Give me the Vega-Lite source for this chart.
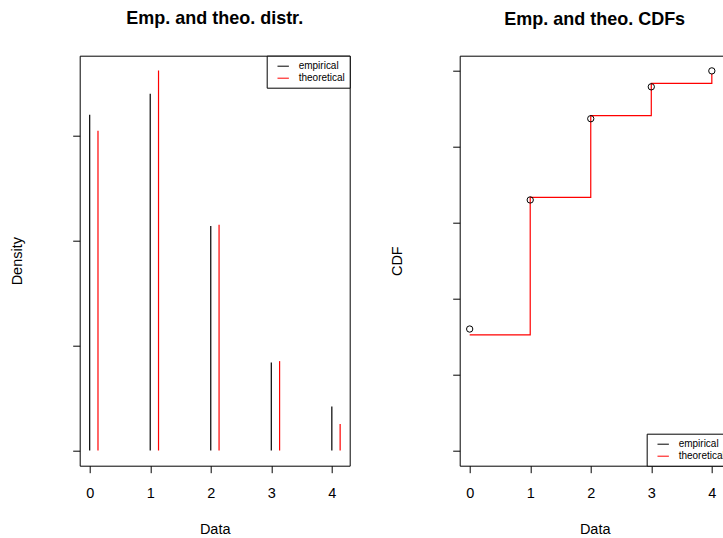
{
  "$schema": "https://vega.github.io/schema/vega-lite/v6.json",
  "background": "white",
  "padding": {"left": 8.7, "top": 9.7, "right": 0, "bottom": 0},
  "autosize": {"type": "pad"},
  "spacing": 38,
  "config": {
    "font": "Liberation Sans",
    "view": {"stroke": "black", "strokeWidth": 1},
    "axis": {"domain": false, "grid": false, "tickColor": "black", "tickSize": 7, "tickWidth": 1,
      "labelFont": "Liberation Sans", "labelFontSize": 14.5, "labelColor": "black",
      "titleFont": "Liberation Sans", "titleFontSize": 14.5, "titleFontWeight": "normal", "titleColor": "black"},
    "axisX": {"labelPadding": 14, "titlePadding": 22, "labelFlush": false},
    "axisY": {"labels": false, "titlePadding": 48},
    "title": {"fontSize": 18, "fontWeight": "bold", "color": "black", "offset": 27, "anchor": "middle", "frame": "group", "font": "Liberation Sans"},
    "legend": {"symbolType": "stroke", "labelFontSize": 10, "strokeColor": "black", "fillColor": "white", "padding": 4, "offset": 0, "symbolSize": 130, "symbolStrokeWidth": 1, "symbolOffset": 6, "rowPadding": 0, "labelOffset": 9, "labelFont": "Liberation Sans", "labelColor": "black", "labelLimit": 200}
  },
  "resolve": {"scale": {"color": "independent"}, "legend": {"color": "independent"}},
  "hconcat": [
    {
      "width": 270, "height": 410,
      "title": "Emp. and theo. distr.",
      "data": {"values": [
        {"k": 0, "type": "empirical", "p": 0.32},
        {"k": 1, "type": "empirical", "p": 0.34},
        {"k": 2, "type": "empirical", "p": 0.214},
        {"k": 3, "type": "empirical", "p": 0.084},
        {"k": 4, "type": "empirical", "p": 0.042},
        {"k": 0, "type": "theoretical", "p": 0.3048},
        {"k": 1, "type": "theoretical", "p": 0.3622},
        {"k": 2, "type": "theoretical", "p": 0.2151},
        {"k": 3, "type": "theoretical", "p": 0.0852},
        {"k": 4, "type": "theoretical", "p": 0.0253}
      ]},
      "encoding": {
        "x": {"field": "k", "type": "quantitative", "title": "Data",
          "scale": {"domain": [-0.165, 4.295], "nice": false, "zero": false},
          "axis": {"values": [0, 1, 2, 3, 4], "format": "d"}},
        "y": {"field": "p", "type": "quantitative", "title": "Density",
          "scale": {"domain": [-0.01447, 0.3763], "nice": false, "zero": false},
          "axis": {"values": [0, 0.1, 0.2, 0.3]}},
        "y2": {"datum": 0},
        "color": {"field": "type", "type": "nominal",
          "scale": {"domain": ["empirical", "theoretical"], "range": ["black", "#ff0000"]},
          "legend": {"title": null, "orient": "top-right"}}
      },
      "layer": [
        {"transform": [{"filter": "datum.type === 'empirical'"}],
         "mark": {"type": "rule", "strokeWidth": 1.2}},
        {"transform": [{"filter": "datum.type === 'theoretical'"}],
         "mark": {"type": "rule", "strokeWidth": 1.2, "xOffset": 8.3}}
      ]
    },
    {
      "width": 270, "height": 410,
      "title": "Emp. and theo. CDFs",
      "layer": [
        {
          "data": {"values": [
            {"k": 0, "type": "theoretical", "cdf": 0.3048},
            {"k": 1, "type": "theoretical", "cdf": 0.6670},
            {"k": 2, "type": "theoretical", "cdf": 0.8821},
            {"k": 3, "type": "theoretical", "cdf": 0.9673},
            {"k": 4, "type": "theoretical", "cdf": 0.9926}
          ]},
          "mark": {"type": "line", "interpolate": "step-after", "strokeWidth": 1.2},
          "encoding": {
            "x": {"field": "k", "type": "quantitative", "title": "Data",
              "scale": {"domain": [-0.165, 4.295], "nice": false, "zero": false},
              "axis": {"values": [0, 1, 2, 3, 4], "format": "d"}},
            "y": {"field": "cdf", "type": "quantitative", "title": "CDF",
              "scale": {"domain": [-0.04, 1.04], "nice": false, "zero": false},
              "axis": {"values": [0, 0.2, 0.4, 0.6, 0.8, 1.0]}},
            "color": {"field": "type", "type": "nominal",
              "scale": {"domain": ["empirical", "theoretical"], "range": ["black", "#ff0000"]},
              "legend": {"title": null, "orient": "bottom-right"}}
          }
        },
        {
          "data": {"values": [
            {"k": 0, "cdf": 0.32},
            {"k": 1, "cdf": 0.66},
            {"k": 2, "cdf": 0.874},
            {"k": 3, "cdf": 0.958},
            {"k": 4, "cdf": 1.0}
          ]},
          "mark": {"type": "point", "shape": "circle", "filled": false, "color": "black", "size": 40, "strokeWidth": 1, "opacity": 1},
          "encoding": {
            "x": {"field": "k", "type": "quantitative"},
            "y": {"field": "cdf", "type": "quantitative"}
          }
        }
      ]
    }
  ]
}
